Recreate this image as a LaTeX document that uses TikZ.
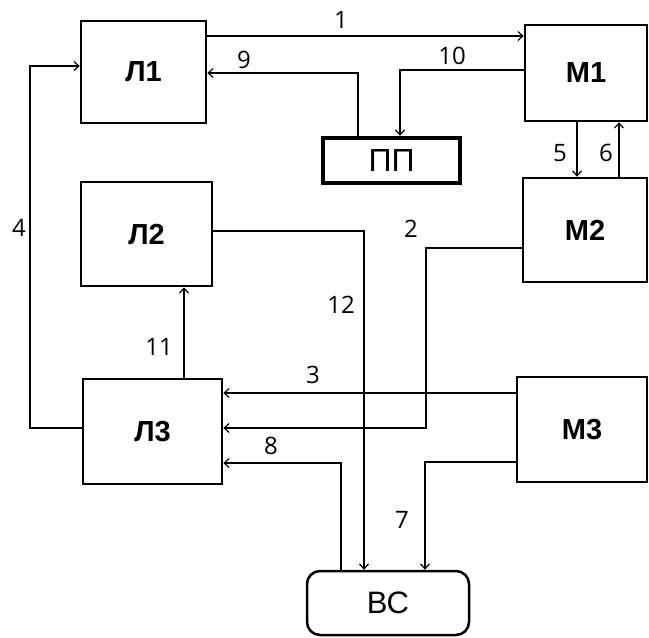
\documentclass[tikz,border=0pt]{standalone}
\usepackage{fontspec}
\setmainfont{Liberation Sans}
\newfontfamily\numfont{Open Sans}
\usetikzlibrary{arrows.meta}
\tikzset{
  blk/.style={draw, line width=2.5pt, inner sep=0pt, font=\fontsize{29}{31}\selectfont\bfseries},
  pp/.style={draw, line width=4.5pt, inner sep=0pt, font=\fontsize{32}{34}\selectfont},
  bc/.style={draw, line width=2.5pt, rounded corners=13pt, inner sep=0pt, font=\fontsize{31}{33}\selectfont},
  arr/.style={line width=1.2pt, -{Straight Barb[length=5pt,width=9pt,line width=1.2pt]}},
  num/.style={inner sep=0pt, font=\numfont\fontsize{24}{26}\selectfont}
}
\begin{document}
\begin{tikzpicture}[x=1pt,y=-1pt]
\useasboundingbox[fill=white] (0,0) rectangle (649,638);
% blocks
\node[blk, minimum width=125pt, minimum height=102pt] (L1) at (143.5,72) {Л1};
\node[blk, minimum width=131pt, minimum height=104pt] (L2) at (146.5,234) {Л2};
\node[blk, minimum width=139pt, minimum height=105pt] (L3) at (152.5,431.5) {Л3};
\node[blk, minimum width=122pt, minimum height=96pt] (M1) at (586,73) {М1};
\node[blk, minimum width=124pt, minimum height=104pt] (M2) at (585,230) {М2};
\node[blk, minimum width=130pt, minimum height=105pt] (M3) at (582,429.5) {М3};
\node[pp, minimum width=137pt, minimum height=45pt] (PP) at (391.5,160.5) {ПП};
\node[bc, minimum width=162pt, minimum height=64pt] (BC) at (388,603) {ВС};
% connectors
\draw[arr] (L1.east |- 0,36) -- (M1.west |- 0,36);
\draw[arr] (PP.north -| 358,0) |- (L1.east |- 0,73);
\draw[arr] (M1.west |- 0,70) -| (PP.north -| 400,0);
\draw[arr] (L3.west |- 0,428) -- (30,428) |- (L1.west |- 0,66);
\draw[arr] (M1.south -| 577,0) -- (M2.north -| 577,0);
\draw[arr] (M2.north -| 619,0) -- (M1.south -| 619,0);
\draw[arr] (L2.east |- 0,231) -| (BC.north -| 364,0);
\draw[arr] (M2.west |- 0,248) -| (426,428) -- (L3.east |- 0,428);
\draw[arr] (L3.north -| 184,0) -- (L2.south -| 184,0);
\draw[arr] (M3.west |- 0,393) -- (L3.east |- 0,393);
\draw[arr] (BC.north -| 341,0) |- (L3.east |- 0,463);
\draw[arr] (M3.west |- 0,462) -| (BC.north -| 425,0);
% labels
\node[num] (n1) at (341,20) {1};
\node[num] (n2) at (411,229) {2};
\node[num] (n3) at (313,375) {3};
\node[num] (n4) at (19,228) {4};
\node[num] (n5) at (560,153) {5};
\node[num] (n6) at (606,153) {6};
\node[num] (n7) at (402,520) {7};
\node[num] (n8) at (271,446) {8};
\node[num] (n9) at (244,60) {9};
\node[num] (n10) at (452,56) {10};
\node[num] (n11) at (159,347) {11};
\node[num] (n12) at (341,305) {12};
\end{tikzpicture}
\end{document}
